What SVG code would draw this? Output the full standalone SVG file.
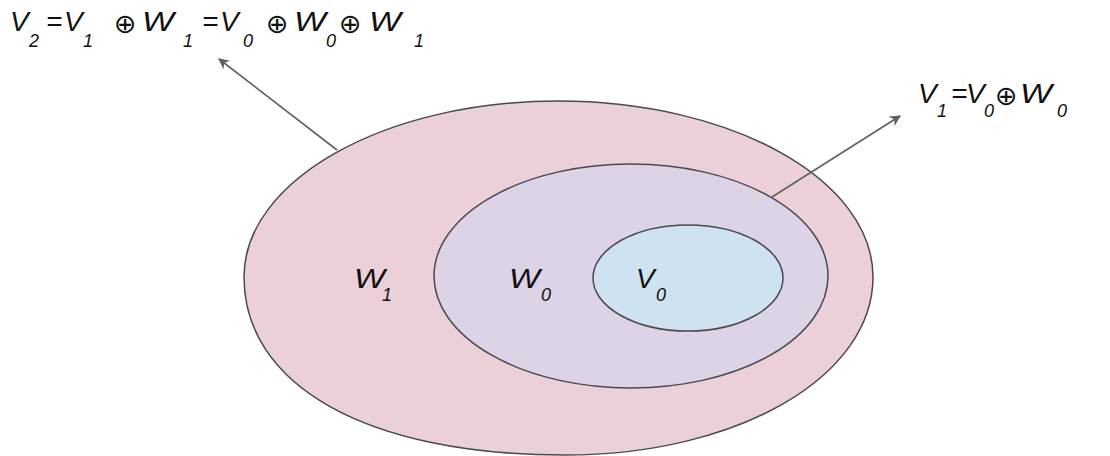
<svg xmlns="http://www.w3.org/2000/svg" width="1110" height="456" viewBox="0 0 1110 456">
<style>
.e{stroke:#4a4a4a;stroke-width:1.5}
.t{font-family:"Liberation Sans",Arial,sans-serif;font-style:italic;fill:#111}
.m{font-size:28px}
.s{font-size:18px}
.o{font-family:"DejaVu Sans",sans-serif;font-style:normal;font-size:27px;fill:#111}
.c{stroke:#606060;stroke-width:1.6;fill:none;marker-end:url(#ah)}
</style>
<defs>
<marker id="ah" viewBox="0 0 10 10" refX="9" refY="5" markerWidth="11" markerHeight="11" markerUnits="userSpaceOnUse" orient="auto">
<path d="M0,0 L10,5 L0,10 L3,5 Z" fill="#606060"/>
</marker>
</defs>
<rect width="1110" height="456" fill="#fff"/>
<g id="W1">
<path class="e" fill="#ebd0da" d="M244,277 C244,180 385,101 558,101 C732,101 873,180 873,277 C873,376 739,455 565,455 C364,455 244,384 244,277 Z"/>
<text class="t m" x="354" y="288" textLength="31" lengthAdjust="spacingAndGlyphs">W</text><text class="t s" x="382" y="301">1</text>
</g>
<g id="W0">
<ellipse class="e" cx="631" cy="276" rx="197" ry="112" fill="#dcd3e7"/>
<text class="t m" x="509" y="288" textLength="31" lengthAdjust="spacingAndGlyphs">W</text><text class="t s" x="541" y="301">0</text>
</g>
<g id="V0">
<ellipse class="e" cx="688" cy="278" rx="95" ry="53" fill="#cfe2f2"/>
<text class="t m" x="636" y="288">V</text><text class="t s" x="656" y="301">0</text>
</g>
<g id="connectors">
<line class="c" x1="337" y1="150" x2="219" y2="59"/>
<line class="c" x1="772" y1="197" x2="900" y2="116"/>
</g>
<g id="eq2">
<text class="t m" x="10" y="31">V</text><text class="t s" x="29" y="47">2</text>
<text class="t m" x="46" y="31">=</text>
<text class="t m" x="64" y="31">V</text><text class="t s" x="83" y="47">1</text>
<text class="o" x="114" y="33">⊕</text>
<text class="t m" x="142" y="31" textLength="32" lengthAdjust="spacingAndGlyphs">W</text><text class="t s" x="183" y="47">1</text>
<text class="t m" x="202" y="31">=</text>
<text class="t m" x="220" y="31">V</text><text class="t s" x="243" y="47">0</text>
<text class="o" x="266" y="33">⊕</text>
<text class="t m" x="294" y="31" textLength="32" lengthAdjust="spacingAndGlyphs">W</text><text class="t s" x="326" y="47">0</text>
<text class="o" x="339" y="33">⊕</text>
<text class="t m" x="369" y="31" textLength="32" lengthAdjust="spacingAndGlyphs">W</text><text class="t s" x="414" y="47">1</text>
</g>
<g id="eq1">
<text class="t m" x="918" y="103">V</text><text class="t s" x="937" y="117">1</text>
<text class="t m" x="951" y="103">=</text>
<text class="t m" x="966" y="103">V</text><text class="t s" x="984" y="117">0</text>
<text class="o" x="995" y="105">⊕</text>
<text class="t m" x="1020" y="103" textLength="32" lengthAdjust="spacingAndGlyphs">W</text><text class="t s" x="1057" y="117">0</text>
</g>
</svg>
